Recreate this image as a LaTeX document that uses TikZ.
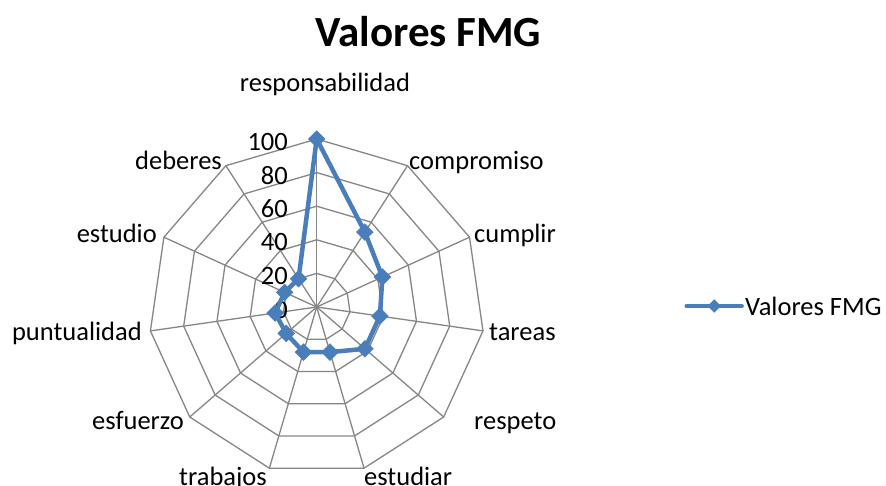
\documentclass[tikz,border=0pt]{standalone}
\usepackage{fontspec}
\setmainfont{Carlito}
\usetikzlibrary{shapes.geometric}
\definecolor{serie}{RGB}{74,126,187}
\definecolor{grille}{RGB}{134,134,134}
\begin{document}
\begin{tikzpicture}[x=1pt,y=-1pt,
  gridline/.style={draw=grille, line width=1.3pt, line join=miter},
  serieline/.style={draw=serie, line width=4.5pt, line join=round},
  mk/.style={diamond, fill=serie, draw=serie, inner sep=0pt, minimum width=17pt, minimum height=17pt},
  axlabel/.style={font=\fontsize{26.5}{30}\selectfont, inner sep=0pt},
  ticklabel/.style={font=\fontsize{26.5}{30}\selectfont, inner sep=0pt, anchor=east},
  titlelabel/.style={font=\fontsize{43}{50}\selectfont\bfseries, inner sep=0pt, anchor=base}]
\fill[white] (0,0) rectangle (886,486);
\useasboundingbox (0,0) rectangle (886,486);
\def\cx{316.7}
\def\cy{307}
\def\R{168}
\coordinate (O) at (\cx,\cy);
% grid coordinates
\foreach \v in {20,40,60,80,100}{
  \foreach \k in {0,...,10}{
    \pgfmathsetmacro{\gx}{\cx+(\v/100)*\R*sin(\k*360/11)}
    \pgfmathsetmacro{\gy}{\cy-(\v/100)*\R*cos(\k*360/11)}
    \coordinate (G\v-\k) at (\gx,\gy);
  }
  \draw[gridline] (G\v-0) -- (G\v-1) -- (G\v-2) -- (G\v-3) -- (G\v-4) -- (G\v-5) -- (G\v-6) -- (G\v-7) -- (G\v-8) -- (G\v-9) -- (G\v-10) -- cycle;
}
% spokes
\foreach \k in {0,...,10}{
  \draw[gridline] (O) -- (G100-\k);
}
% tick labels
\foreach \v in {0,20,40,60,80,100}{
  \pgfmathsetmacro{\ty}{\cy-(\v/100)*\R+2.5}
  \node[ticklabel] (t\v) at (288,\ty) {\v};
}
% series
\foreach \v [count=\k from 0] in {100,53,43,38,38,28,28,24,25,21,20}{
  \pgfmathsetmacro{\px}{\cx+(\v/100)*\R*sin(\k*360/11)}
  \pgfmathsetmacro{\py}{\cy-(\v/100)*\R*cos(\k*360/11)}
  \coordinate (p\k) at (\px,\py);
}
\draw[serieline] (p0) -- (p1) -- (p2) -- (p3) -- (p4) -- (p5) -- (p6) -- (p7) -- (p8) -- (p9) -- (p10) -- cycle;
\foreach \k in {0,...,10}{
  \node[mk] (m\k) at (p\k) {};
}
% axis labels
\node[axlabel, anchor=base] (a0) at (325,91.7) {responsabilidad};
\node[axlabel, anchor=base west] (a1) at (409,169.3) {compromiso};
\node[axlabel, anchor=base west] (a2) at (474,242.7) {cumplir};
\node[axlabel, anchor=base west] (a3) at (489,340) {tareas};
\node[axlabel, anchor=base west] (a4) at (474,429) {respeto};
\node[axlabel, anchor=base west] (a5) at (364,485) {estudiar};
\node[axlabel, anchor=base east] (a6) at (267,485) {trabajos};
\node[axlabel, anchor=base east] (a7) at (184,429) {esfuerzo};
\node[axlabel, anchor=base east] (a8) at (142,340.7) {puntualidad};
\node[axlabel, anchor=base east] (a9) at (157,242.7) {estudio};
\node[axlabel, anchor=base east] (a10) at (222,169.3) {deberes};
% title
\node[titlelabel] (title) at (428.3,46.7) {Valores FMG};
% legend
\coordinate (L1) at (686.7,306);
\coordinate (L2) at (741.7,306);
\draw[serieline, line cap=round] (L1) -- (L2);
\node[mk, minimum width=13pt, minimum height=13pt] (LM) at (714.2,306) {};
\node[axlabel, anchor=west] (LT) at (745,306.7) {Valores FMG};
\end{tikzpicture}
\end{document}
